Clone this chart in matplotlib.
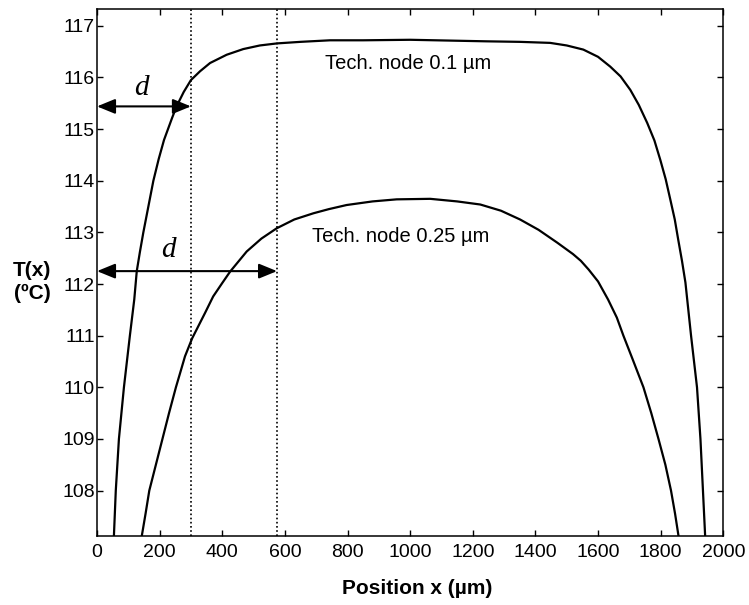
import matplotlib
matplotlib.use("Agg")
import matplotlib.pyplot as plt

# curve readings: position (um) and temperature (C)
x_01 = [54, 60, 70, 86, 105, 119, 127, 137, 148, 164, 180, 197, 214, 240,
        254, 277, 300, 329, 361, 414, 467, 520, 575, 650, 744, 850, 1000,
        1245, 1350, 1447, 1500, 1553, 1600, 1639, 1672, 1703, 1730, 1757,
        1780, 1799, 1816, 1831, 1845, 1856, 1868, 1879, 1897, 1916, 1927,
        1935, 1942]
t_01 = [107.12, 108.0, 109.0, 110.0, 111.0, 111.7, 112.25, 112.62, 113.0,
        113.5, 114.0, 114.42, 114.79, 115.22, 115.44, 115.72, 115.95,
        116.12, 116.28, 116.44, 116.55, 116.62, 116.66, 116.69, 116.72,
        116.72, 116.73, 116.70, 116.69, 116.67, 116.62, 116.54, 116.40,
        116.21, 116.02, 115.76, 115.47, 115.12, 114.78, 114.4, 114.03,
        113.63, 113.25, 112.86, 112.45, 112.03, 111.0, 110.0, 109.0,
        108.0, 107.12]

x_025 = [143, 155, 167, 188, 209, 230, 252, 268, 281, 304, 345, 371, 400,
         425, 478, 525, 574, 630, 691, 740, 797, 880, 957, 1064, 1150, 1224,
         1290, 1351, 1410, 1470, 1520, 1545, 1570, 1600, 1632, 1660, 1681,
         1710, 1745, 1770, 1793, 1815, 1833, 1846, 1857]
t_025 = [107.12, 107.55, 108.0, 108.5, 109.0, 109.5, 110.0, 110.33, 110.6,
         110.95, 111.44, 111.76, 112.02, 112.24, 112.63, 112.88, 113.08,
         113.25, 113.37, 113.45, 113.53, 113.60, 113.64, 113.65, 113.60,
         113.54, 113.42, 113.25, 113.05, 112.8, 112.58, 112.45, 112.28,
         112.05, 111.7, 111.35, 111.0, 110.55, 110.0, 109.5, 109.0, 108.5,
         108.0, 107.55, 107.12]

d_marks = [300, 575]          # dotted lines, right end of the arrows
d_levels = [115.44, 112.25]   # height of the arrows
x_ticks = list(range(0, 2001, 200))
y_ticks = list(range(108, 118))

tick_font = ["Liberation Sans Narrow", "Liberation Sans", "DejaVu Sans"]
plt.rcParams["font.family"] = ["Liberation Sans", "DejaVu Sans"]

fig = plt.figure(figsize=(7.49, 6.05), dpi=100)
ax = fig.add_axes([0.1295, 0.1140, 0.8362, 0.8706])

ax.plot(x_01, t_01, color="black", lw=1.6)
ax.plot(x_025, t_025, color="black", lw=1.6)

for xm in d_marks:
    ax.axvline(xm, color="black", lw=1.2, ls=(0, (1, 1.5)))

for xm, lvl in zip(d_marks, d_levels):
    ax.annotate("", xy=(xm, lvl), xytext=(0, lvl),
                arrowprops=dict(arrowstyle="<|-|>,head_length=1.1,head_width=0.45",
                                mutation_scale=10, color="black", lw=1.5,
                                shrinkA=0, shrinkB=0))

ax.text(143, 115.66, "d", fontsize=21, style="italic",
        family=["Liberation Serif", "DejaVu Serif"], ha="center", va="baseline")
ax.text(227, 112.53, "d", fontsize=21, style="italic",
        family=["Liberation Serif", "DejaVu Serif"], ha="center", va="baseline")

ax.text(728, 116.17, "Tech. node 0.1 µm", fontsize=14.5, va="baseline")
ax.text(688, 112.82, "Tech. node 0.25 µm", fontsize=14.5, va="baseline")

ax.set_xlim(0, 2000)
ax.set_ylim(107.12, 117.32)
ax.set_xticks(x_ticks)
ax.set_yticks(y_ticks)
ax.tick_params(direction="in", top=True, right=True, length=4.5, width=1.0)
ax.tick_params(axis="y", pad=1.5)
ax.tick_params(axis="x", pad=6)
for lab in ax.get_xticklabels() + ax.get_yticklabels():
    lab.set_fontfamily(tick_font)
    lab.set_fontsize(14)
for sp in ax.spines.values():
    sp.set_linewidth(1.1)

fig.text(416.7 / 749, 1 - 589 / 605, "Position x (µm)", fontsize=15,
         fontweight="bold", ha="center", va="center")
fig.text(32 / 749, 1 - 282 / 605, "T(x)\n(ºC)", fontsize=15,
         fontweight="bold", ha="center", va="center", multialignment="center")

fig.savefig("out.png", dpi=100)
